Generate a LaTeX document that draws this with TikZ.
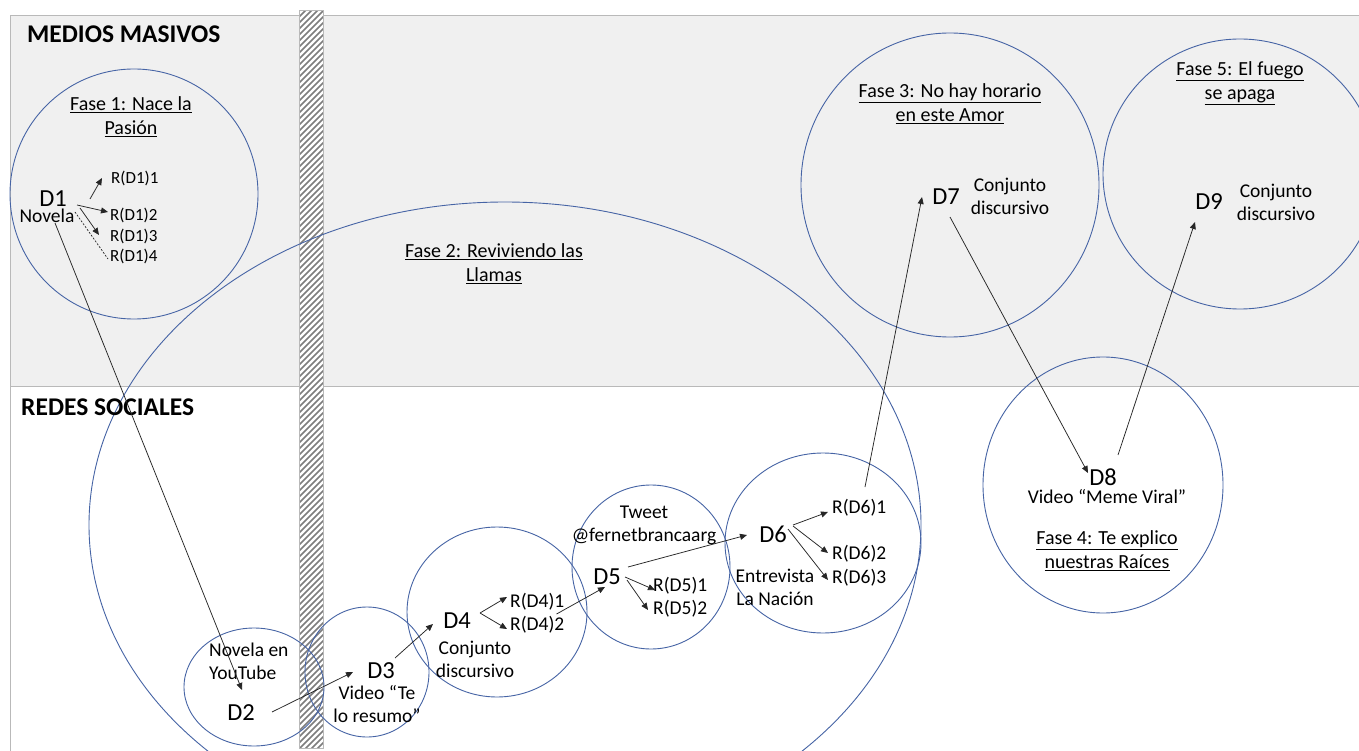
\documentclass[tikz,border=0pt]{standalone}
\usepackage{fontspec}
\setmainfont{Carlito}
\usetikzlibrary{calc,arrows.meta}
\definecolor{ringc}{RGB}{70,100,165}
\definecolor{bandgray}{RGB}{240,240,240}
\definecolor{bordergray}{RGB}{185,185,185}
\definecolor{hatchgray}{RGB}{125,125,125}
\begin{document}
\begin{tikzpicture}[x=1pt,y=-1pt,
  ring/.style={draw=ringc, line width=0.9pt},
  ttl/.style={font=\fontsize{25.5}{28}\selectfont\bfseries, anchor=west, inner sep=0pt},
  fase/.style={font=\fontsize{20}{24}\selectfont, align=center, inner sep=0pt},
  txt/.style={font=\fontsize{19.5}{23}\selectfont, align=center, inner sep=0pt},
  dlab/.style={font=\fontsize{24.5}{28}\selectfont, inner sep=0pt},
  rlab/.style={font=\fontsize{19.5}{23}\selectfont, anchor=west, inner sep=0pt},
  rsmall/.style={font=\fontsize{17}{20}\selectfont, anchor=west, inner sep=0pt},
  arr/.style={draw=black!85, line width=0.75pt, -{Triangle[length=7pt,width=6pt]}},
  dashline/.style={draw=black!85, line width=0.7pt, dashed, dash pattern=on 2pt off 1.5pt},
  hatch/.style={draw=hatchgray, line width=1.7pt},
  border/.style={draw=bordergray, line width=1pt}
]
\useasboundingbox (0,0) rectangle (1359,751);
\clip (0,0) rectangle (1359,751);
\fill[white] (0,0) rectangle (1359,751);
% bands
\fill[bandgray] (10,16) rectangle (1362,386);
\draw[border] (1362,16) -- (10,16) -- (10,755);
\draw[border] (10,386) -- (1362,386);
% hatched bar
\begin{scope}
  \clip (299,11) rectangle (323,748);
  \fill[white] (299,11) rectangle (323,748);
  \foreach \k in {0,...,132} \draw[hatch] (299,{11+\k*6}) -- ++(26,-26);
\end{scope}
\draw[border] (299,11) rectangle (323,748);
% circles
\draw[ring] (134,194) ellipse [x radius=124pt, y radius=125pt];
\draw[ring] (505,525) ellipse [x radius=416pt, y radius=323pt];
\draw[ring] (254,687) ellipse [x radius=70pt, y radius=59pt];
\draw[ring] (367,672) ellipse [x radius=62pt, y radius=65pt];
\draw[ring] (497,612) ellipse [x radius=90pt, y radius=85pt];
\draw[ring] (651,567) ellipse [x radius=79pt, y radius=82pt];
\draw[ring] (823,543) ellipse [x radius=98pt, y radius=90pt];
\draw[ring] (950,185) ellipse [x radius=149pt, y radius=152pt];
\draw[ring] (1240,174) ellipse [x radius=137pt, y radius=135pt];
\draw[ring] (1103,485) ellipse [x radius=120pt, y radius=128pt];
% titles
\node[ttl] (medios) at (27,34) {MEDIOS MASIVOS};
\node[ttl] (redes) at (21,407) {REDES SOCIALES};
% phase labels
\node[fase] (fase1) at (131,117) {\underline{Fase 1: Nace la}\\\underline{Pasión}};
\node[fase] (fase2) at (494,264) {\underline{Fase 2: Reviviendo las}\\\underline{Llamas}};
\node[fase] (fase3) at (950,104) {\underline{Fase 3: No hay horario}\\\underline{en este Amor}};
\node[fase] (fase5) at (1240,83) {\underline{Fase 5: El fuego}\\\underline{se apaga}};
\node[fase] (fase4) at (1107,551) {\underline{Fase 4: Te explico}\\\underline{nuestras Raíces}};
% D1 group
\node[dlab] (D1) at (53,199) {D1};
\node[txt] (nov1) at (47,216) {Novela};
\node[rsmall] (R11) at (111,178) {R(D1)1};
\node[rsmall] (R12) at (110,215) {R(D1)2};
\node[rsmall] (R13) at (110,236) {R(D1)3};
\node[rsmall] (R14) at (110,256) {R(D1)4};
% D2
\node[dlab] (D2) at (241,713) {D2};
\node[txt, align=left, anchor=west] (nov2) at (209,661) {Novela en\\YouTube};
% D3
\node[dlab] (D3) at (381,671) {D3};
\node[txt] (vid3) at (377,704) {Video “Te\\lo resumo”};
% D4
\node[dlab] (D4) at (457,621) {D4};
\node[txt] (conj4) at (475,659) {Conjunto\\discursivo};
\node[rlab] (R41) at (510,602) {R(D4)1};
\node[rlab] (R42) at (510,625) {R(D4)2};
% D5
\node[dlab] (D5) at (607,577) {D5};
\node[txt] (tweet) at (644,525) {Tweet\\@fernetbrancaarg};
\node[rlab] (R51) at (653,586) {R(D5)1};
\node[rlab] (R52) at (653,609) {R(D5)2};
% D6
\node[dlab] (D6) at (773,534) {D6};
\node[txt] (entre) at (775,587) {Entrevista\\La Nación};
\node[rlab] (R61) at (832,508) {R(D6)1};
\node[rlab] (R62) at (832,554) {R(D6)2};
\node[rlab] (R63) at (832,578) {R(D6)3};
% D7
\node[dlab] (D7) at (946,197) {D7};
\node[txt] (conj7) at (1010,196) {Conjunto\\discursivo};
% D8
\node[dlab] (D8) at (1103,477) {D8};
\node[txt] (vid8) at (1107,497) {Video “Meme Viral”};
% D9
\node[dlab] (D9) at (1209,202) {D9};
\node[txt] (conj9) at (1276,202) {Conjunto\\discursivo};
% connectors
\draw[arr] ($(D1)+(37,0)$) -- ($(R11.west)+(-9,0)$);
\draw[arr] ($(D1)+(24,6)$) -- ($(R12.west)+(-2,-3)$);
\draw[arr] ($(D1)+(27,9)$) -- ($(R13.west)+(-11,-1)$);
\draw[dashline] ($(D1)+(22,13)$) -- ($(R14.west)+(-2,3)$);
\draw[arr] ($(nov1)+(8,7)$) -- ($(D2)+(1,-23)$);
\draw[arr] ($(D2)+(31,-1)$) -- ($(D3)+(-28,1)$);
\draw[arr] ($(D3)+(14,-13)$) -- ($(D4)+(-24,3)$);
\draw[arr] ($(D4)+(23,-8)$) -- ($(R41.west)+(-3,-5)$);
\draw[arr] ($(D4)+(23,-8)$) -- ($(R42.west)+(-3,4)$);
\draw[arr] ($(R42.east)+(-8,-11)$) -- ($(D5)+(-2,10)$);
\draw[arr] ($(D5)+(18,0)$) -- ($(R51.west)+(2,4)$);
\draw[arr] ($(D5)+(20,3)$) -- ($(R52.west)+(-5,1)$);
\draw[arr] ($(D5)+(21,-10)$) -- ($(D6)+(-26,1)$);
\draw[arr] ($(D6)+(20,-9)$) -- ($(R61.west)+(-4,4)$);
\draw[arr] ($(D6)+(20,-8)$) -- ($(R62.west)+(-4,-1)$);
\draw[arr] ($(D6)+(15,-5)$) -- ($(R63.west)+(-4,2)$);
\draw[arr] ($(R61.west)+(33,-21)$) -- ($(D7)+(-24,0)$);
\draw[arr] ($(D7)+(4,20)$) -- ($(D8)+(-15,-4)$);
\draw[arr] ($(D8)+(15,-22)$) -- ($(D9)+(-14,20)$);
\end{tikzpicture}
\end{document}
